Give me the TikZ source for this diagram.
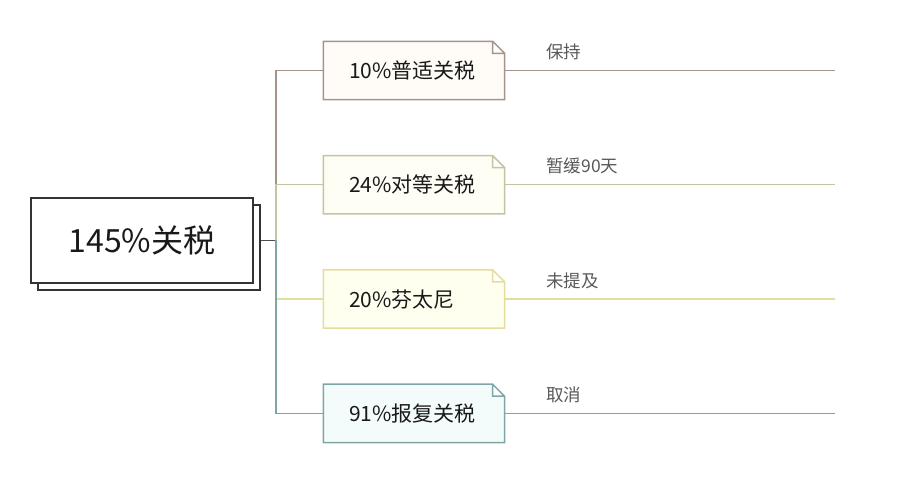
\documentclass[tikz,border=0pt]{standalone}
\usepackage{fontspec}
\setmainfont{Noto Sans CJK SC}
\usetikzlibrary{positioning,shadows,backgrounds}
\definecolor{keepline}{HTML}{A8928C}
\definecolor{keepfill}{HTML}{FFFBF7}
\definecolor{pauseline}{HTML}{C4C3A2}
\definecolor{pausefill}{HTML}{FFFEF4}
\definecolor{noneline}{HTML}{E4DE9E}
\definecolor{nonefill}{HTML}{FFFFF0}
\definecolor{dropline}{HTML}{7FA6A7}
\definecolor{dropfill}{HTML}{F3FBFB}

\begin{document}
\begin{tikzpicture}[x=0.5pt, y=-0.5pt, line width=0.65pt, topic/.style={draw=black!80, line width=1pt, fill=white, minimum width=111pt, minimum height=42.5pt, text=black!90, font=\fontsize{16}{19}\selectfont, copy shadow={shadow xshift=3.5pt, shadow yshift=-3.5pt, draw=black!80, fill=white, line width=1pt}}, rate/.style={minimum height=28.5pt, text width=65pt, inner xsep=12.5pt, align=left, text=black!90, font=\fontsize{10.5}{12}\selectfont}, tag/.style={anchor=south west, inner sep=0pt, xshift=20.5pt, yshift=5pt, text=black!65, font=\fontsize{8.75}{10}\selectfont}]
	\useasboundingbox (0,0) rectangle (923,490);
	\node[topic] (tariff) at (142,240.5) {145\%关税};
	\coordinate (hub) at (276,240.5);
	\coordinate (rim) at (835,0);
	\node[rate] (base) at (414,70.5) {10\%普适关税};
	\node[rate] (recip) [below=28pt of base] {24\%对等关税};
	\node[rate] (fent) [below=28pt of recip] {20\%芬太尼};
	\node[rate] (retal) [below=28pt of fent] {91\%报复关税};
	% dog-eared boxes behind the texts
	\begin{scope}[on background layer]
		\foreach \n/\c/\f in {base/keepline/keepfill, recip/pauseline/pausefill, fent/noneline/nonefill, retal/dropline/dropfill}
			\filldraw[draw=\c, fill=\f, line width=0.75pt] (\n.south west) -- (\n.north west) -- ([xshift=-6pt]\n.north east) -- ([yshift=-6pt]\n.north east) -- (\n.south east) -- cycle ([xshift=-6pt]\n.north east) |- ([yshift=-6pt]\n.north east);
	\end{scope}
	\draw[black!70] ([xshift=3.5pt]tariff.east) -- (hub);
	\draw[keepline] (hub) |- (base);
	\draw[pauseline] (hub) |- (recip);
	\draw[noneline] (hub) |- (fent);
	\draw[dropline] (hub) |- (retal);
	\draw[keepline] (base) -- node[tag, at start] {保持} (base -| rim);
	\draw[pauseline] (recip) -- node[tag, at start] {暂缓90天} (recip -| rim);
	\draw[noneline] (fent) -- node[tag, at start] {未提及} (fent -| rim);
	\draw[dropline] (retal) -- node[tag, at start] {取消} (retal -| rim);
\end{tikzpicture}
\end{document}
